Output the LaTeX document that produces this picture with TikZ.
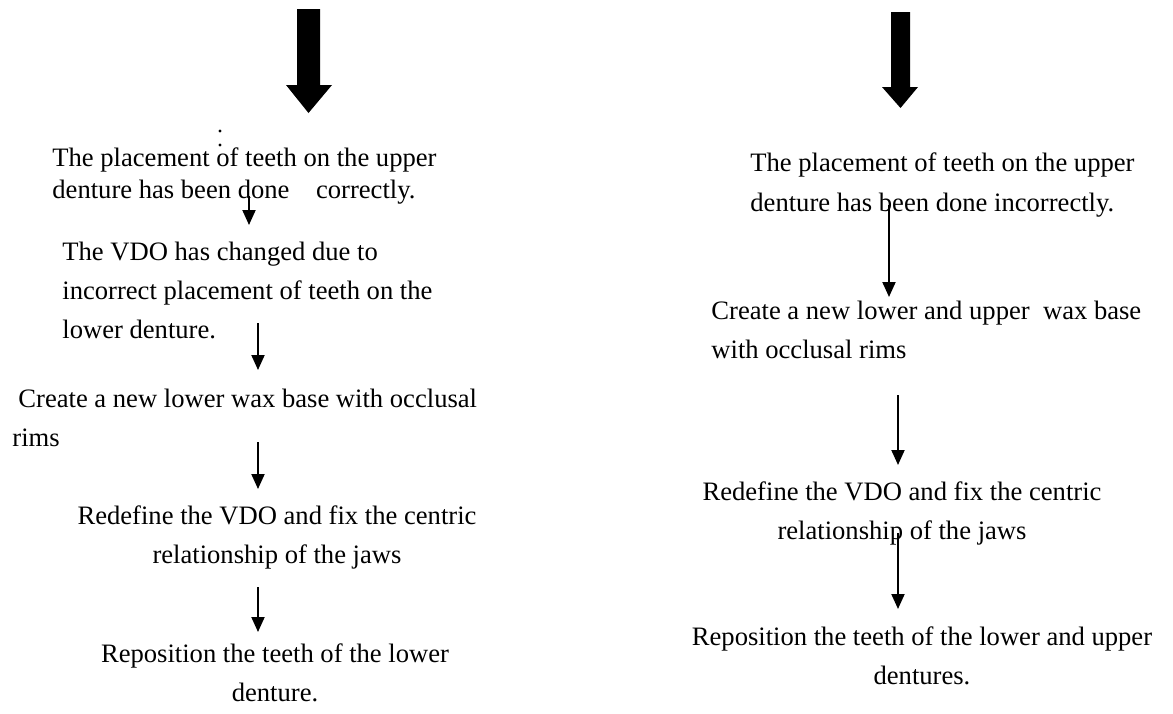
\documentclass[tikz,border=0pt]{standalone}
\usepackage{fontspec}
\setmainfont{Liberation Serif}
\usetikzlibrary{positioning}
\usetikzlibrary{arrows.meta}

\begin{document}
\begin{tikzpicture}[x=0.5pt, y=-0.5pt,
  stage/.style={inner sep=0pt, font=\fontsize{13.3pt}{19.5pt}\selectfont},
  flow/.style={line width=1pt, -{Triangle[width=6.5pt, length=7.5pt]}}]

\useasboundingbox (0,0) rectangle (1173,713);

%big arrows on top
\fill (297,9) -- (320,9) -- (320,85) -- (332,85) -- (308.5,113) -- (286,85) -- (297,85) -- cycle;
\fill (891,12) -- (910,12) -- (910,87) -- (918,87) -- (900.5,108) -- (882,87) -- (891,87) -- cycle;

%stray dots
\fill (220,131) circle (0.8pt);
\fill (220,145) circle (0.8pt);

%left column (placed at the baseline of the last line)
\node[stage, anchor=base west, align=left, font=\fontsize{13.3pt}{16pt}\selectfont] (L1) at (52,198)
  {The placement of teeth on the upper\\denture has been done\ \ \ \ correctly.};
\node[stage, anchor=base west, align=left] (L2) at (62,338)
  {The VDO has changed due to\\incorrect placement of teeth on the\\lower denture.};
\node[stage, anchor=base west, align=left] (L3) at (12,446)
  {\hspace*{3pt}Create a new lower wax base with occlusal\\rims};
\node[stage, anchor=base, align=center] (L4) at (277,563)
  {Redefine the VDO and fix the centric\\relationship of the jaws};
\node[stage, anchor=base, align=center] (L5) at (275,701)
  {Reposition the teeth of the lower\\denture.};

%right column
\node[stage, anchor=base west, align=left, font=\fontsize{13.3pt}{20pt}\selectfont] (R1) at (750,211)
  {The placement of teeth on the upper\\denture has been done incorrectly.};
\node[stage, anchor=base west, align=left] (R2) at (711,358)
  {Create a new lower and upper\ \ wax base\\with occlusal rims};
\node[stage, anchor=base, align=center] (R3) at (902,539)
  {Redefine the VDO and fix the centric\\relationship of the jaws};
\node[stage, anchor=base, align=center] (R4) at (922,684)
  {Reposition the teeth of the lower and upper\\dentures.};

%arrow starts
\coordinate (a1) at (249,196);
\coordinate (a2) at (258,323);
\coordinate (a3) at (258,442);
\coordinate (a4) at (258,587);
\coordinate (b1) at (889,205);
\coordinate (b2) at (898,395);
\coordinate (b3) at (898,533);

\foreach \s/\t/\c in {a1/L2/56.5pt, a2/L3/38pt, a3/L4/37pt, a4/L5/34.5pt,
                      b1/R2/30.5pt, b2/R3/37pt, b3/R4/37.5pt}
  \draw[flow, shorten >=\c] (\s) -- (\s |- \t.base);

\end{tikzpicture}
\end{document}
